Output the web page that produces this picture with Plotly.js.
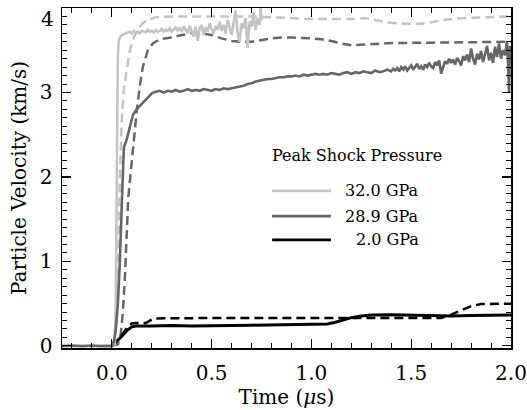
<!DOCTYPE html>
<html>
<head>
<meta charset="utf-8">
<script src="https://cdn.plot.ly/plotly-3.0.1.min.js"></script>
<style>html,body{margin:0;padding:0;background:#fff;}#chart{width:527px;height:410px;}</style>
</head>
<body>
<div id="chart"></div>
<script>
// ---- Data (time in microseconds, particle velocity in km/s) ----
// 32.0 GPa measured (solid, light gray)
var t32exp = [-0.25,-0.2,-0.15,-0.1,-0.05,0.0,0.015,0.02,0.023,0.026,0.03,0.035,0.045,0.06,0.08,
  0.09,0.10,0.11,0.12,0.13,0.14,0.15,0.16,0.17,0.18,0.19,0.20,0.21,0.22,0.23,0.24,0.25,0.26,0.27,0.28,0.29,
  0.30,0.31,0.32,0.33,0.34,0.35,0.36,0.37,0.38,0.39,0.40,0.41,0.42,0.43,0.44,0.45,0.46,0.47,0.48,0.49,
  0.50,0.51,0.52,0.53,0.54,0.55,0.56,0.57,0.58,0.59,0.60,0.61,0.62,0.63,0.64,0.65,0.66,0.67,0.68,0.69,
  0.70,0.71,0.72,0.73,0.74,0.745,0.75];
var v32exp = [0.005,-0.005,0.005,-0.005,0.005,0.0,0.02,0.6,1.6,2.8,3.45,3.62,3.67,3.69,3.71,
  3.72,3.70,3.73,3.71,3.72,3.70,3.73,3.72,3.71,3.74,3.72,3.73,3.71,3.74,3.72,3.73,3.75,3.72,3.74,3.73,3.76,
  3.72,3.75,3.77,3.73,3.76,3.72,3.78,3.74,3.70,3.79,3.73,3.66,3.78,3.61,3.76,3.80,3.68,3.77,3.72,3.82,
  3.75,3.70,3.79,3.74,3.84,3.73,3.80,3.70,3.86,3.75,3.68,3.83,3.97,3.71,3.60,3.82,3.76,3.88,3.53,3.84,
  3.78,3.95,3.74,3.88,3.80,4.0,3.85];
// 32.0 GPa simulated (dashed, light gray)
var t32sim = [0.0,0.01,0.02,0.028,0.033,0.04,0.05,0.06,0.075,0.09,0.11,0.13,0.155,0.18,0.22,0.3,0.5,0.7,
  0.8,0.9,1.0,1.1,1.2,1.27,1.32,1.38,1.45,1.55,1.6,1.67,1.75,1.85,2.0];
var v32sim = [0.0,0.05,0.3,0.8,1.2,2.0,2.7,3.05,3.3,3.5,3.65,3.75,3.82,3.86,3.89,3.9,3.9,3.9,
  3.89,3.88,3.87,3.87,3.87,3.88,3.86,3.83,3.815,3.815,3.83,3.86,3.88,3.89,3.9];
// 28.9 GPa measured (solid, dark gray)
var t29exp = [-0.25,-0.2,-0.15,-0.1,-0.05,0.0,0.01,0.02,0.03,0.04,0.05,0.055,0.06,0.075,0.09,0.105,0.12,0.14,0.16,0.18,0.2,0.22,
  0.24,0.26,0.28,0.30,0.32,0.34,0.36,0.38,0.40,0.42,0.44,0.46,0.48,0.50,0.52,0.54,0.56,0.58,0.60,0.62,0.64,0.66,0.68,
  0.70,0.72,0.74,0.76,0.78,0.80,0.82,0.84,0.86,0.88,0.90,0.92,0.94,0.96,0.98,1.00,1.02,1.04,1.06,1.08,1.10,1.12,
  1.14,1.16,1.18,1.20,1.22,1.24,1.26,1.28,1.30,1.32,1.34,1.36,1.38,1.40,
  1.41,1.42,1.43,1.44,1.45,1.46,1.47,1.48,1.49,1.50,1.51,1.52,1.53,1.54,1.55,1.56,1.57,1.58,1.59,1.60,
  1.61,1.62,1.63,1.64,1.65,1.66,1.67,1.68,1.69,1.70,1.71,1.72,1.73,1.74,1.75,1.76,1.77,1.78,1.79,1.80,
  1.81,1.82,1.83,1.84,1.85,1.86,1.87,1.88,1.89,1.90,1.91,1.92,1.93,1.94,1.95,1.96,1.97,1.98,1.985,1.99,1.995,2.0];
var v29exp = [-0.005,0.005,-0.005,0.005,-0.005,0.0,0.05,0.2,0.5,1.0,1.7,2.2,2.35,2.45,2.6,2.73,2.79,2.84,2.89,2.94,2.99,3.01,
  3.02,3.00,3.02,3.01,3.03,3.01,3.02,3.04,3.02,3.03,3.02,3.04,3.03,3.02,3.04,3.03,3.05,3.04,3.05,3.06,3.07,3.08,3.10,
  3.11,3.13,3.14,3.15,3.16,3.16,3.17,3.18,3.18,3.19,3.19,3.20,3.19,3.21,3.20,3.21,3.22,3.21,3.22,3.21,3.23,3.22,
  3.21,3.23,3.24,3.22,3.24,3.23,3.25,3.24,3.23,3.26,3.24,3.25,3.27,3.25,
  3.28,3.26,3.29,3.25,3.30,3.27,3.31,3.26,3.29,3.32,3.27,3.30,3.34,3.28,3.31,3.27,3.33,3.30,3.35,3.31,
  3.29,3.36,3.32,3.38,3.22,3.30,3.37,3.34,3.40,3.35,3.39,3.33,3.41,3.37,3.32,3.43,3.38,3.45,3.36,3.52,
  3.40,3.33,3.46,3.39,3.49,3.36,3.44,3.55,3.38,3.47,3.35,3.54,3.42,3.58,3.40,3.50,3.44,3.60,3.38,3.0,3.55,3.45];
// 28.9 GPa simulated (dashed, dark gray)
var t29sim = [0.0,0.03,0.045,0.055,0.065,0.075,0.082,0.09,0.1,0.108,0.115,0.125,0.14,0.155,0.18,0.205,0.24,0.3,0.35,
  0.4,0.45,0.5,0.55,0.6,0.65,0.7,0.75,0.8,0.85,0.9,1.0,1.05,1.1,1.15,1.2,1.25,1.3,1.4,1.6,1.8,2.0];
var v29sim = [0.0,0.02,0.15,0.4,0.8,1.3,1.75,1.95,2.2,2.4,2.6,2.79,3.08,3.3,3.5,3.58,3.63,3.65,3.68,
  3.70,3.70,3.68,3.64,3.61,3.60,3.60,3.62,3.64,3.65,3.65,3.64,3.63,3.61,3.58,3.56,3.565,3.575,3.585,3.59,3.595,3.6];
// 2.0 GPa measured (solid, black)
var t2exp = [0.0,0.02,0.04,0.06,0.08,0.1,0.12,0.2,0.3,0.4,0.5,0.6,0.7,0.8,0.9,1.0,1.08,1.12,1.16,1.2,1.25,1.3,1.4,1.5,1.6,1.7,1.8,1.9,2.0];
var v2exp = [0.0,0.04,0.09,0.14,0.19,0.225,0.235,0.235,0.24,0.235,0.235,0.24,0.245,0.25,0.255,0.255,0.26,0.28,0.31,0.335,0.355,0.365,0.37,0.365,0.355,0.355,0.36,0.36,0.365];
// 2.0 GPa simulated (dashed, black)
var t2sim = [0.0,0.03,0.06,0.08,0.1,0.12,0.17,0.19,0.21,0.5,1.0,1.2,1.5,1.65,1.7,1.75,1.8,1.85,2.0];
var v2sim = [0.0,0.07,0.16,0.23,0.265,0.27,0.27,0.3,0.325,0.33,0.33,0.325,0.325,0.33,0.37,0.42,0.47,0.495,0.5];

// axis ticks
var yTickVals = [0, 1, 2, 3, 4];
var yTickText = ["0", "1", "2", "3", ""];   // top label "4" drawn just inside the frame, as in the original
var yTopLabel = "4";

var legendTitle = "Peak Shock Pressure";
var legendLabels = ["32.0 GPa", "28.9 GPa", "2.0 GPa"];
var seriesColors = ["#c4c4c4", "#666666", "#000000"];

var FONT = "DejaVu Serif, Liberation Serif, serif";
var dashPat = "9px,5px";

var traces = [
  {x: t32sim, y: v32sim, mode: "lines", line: {color: seriesColors[0], width: 2.5, dash: dashPat}},
  {x: t29sim, y: v29sim, mode: "lines", line: {color: seriesColors[1], width: 2.5, dash: dashPat}},
  {x: t2sim, y: v2sim, mode: "lines", line: {color: seriesColors[2], width: 2.5, dash: dashPat}},
  {x: t2exp, y: v2exp, mode: "lines", line: {color: seriesColors[2], width: 3}},
  {x: t32exp, y: v32exp, mode: "lines", line: {color: seriesColors[0], width: 2.6}},
  {x: t29exp, y: v29exp, mode: "lines", line: {color: seriesColors[1], width: 2.6}}
];
traces.forEach(function(tr){ tr.showlegend = false; tr.hoverinfo = "skip"; });

// legend drawn in paper coordinates
var legY = [0.462, 0.388, 0.318];
var shapes = [];
var annotations = [{
  xref: "paper", yref: "paper", x: 0.464, y: 0.567, xanchor: "left", yanchor: "middle",
  text: legendTitle, showarrow: false, font: {family: FONT, size: 16, color: "#000"}
}, {
  xref: "paper", yref: "paper", x: -0.016, y: 1.0, xanchor: "right", yanchor: "top", yshift: 2,
  text: yTopLabel, showarrow: false, font: {family: FONT, size: 20, color: "#000"},
  borderpad: 0
}];
for (var i = 0; i < legendLabels.length; i++) {
  shapes.push({type: "line", xref: "paper", yref: "paper", x0: 0.468, x1: 0.599, y0: legY[i], y1: legY[i],
    line: {color: seriesColors[i], width: 2.8}});
  annotations.push({xref: "paper", yref: "paper", x: 0.80, y: legY[i], xanchor: "right", yanchor: "middle",
    text: legendLabels[i], showarrow: false, font: {family: FONT, size: 16, color: "#000"}});
}

var axisCommon = {
  showline: true, linecolor: "#000", linewidth: 1.5, mirror: "ticks",
  ticks: "inside", ticklen: 9, tickwidth: 1.2, tickcolor: "#000",
  showgrid: false, zeroline: false,
  tickfont: {family: FONT, size: 20, color: "#000"}
};

var layout = {
  width: 527, height: 410,
  margin: {l: 62, r: 16, t: 8, b: 62},
  paper_bgcolor: "#fff", plot_bgcolor: "#fff",
  showlegend: false,
  xaxis: Object.assign({}, axisCommon, {
    range: [-0.25, 2.0], tick0: 0, dtick: 0.5, tickformat: ".1f",
    ticklabelstandoff: 6,
    minor: {dtick: 0.1, ticks: "inside", ticklen: 5, tickwidth: 1, tickcolor: "#000", showgrid: false},
    title: {text: "Time (<i>μ</i>s)", font: {family: FONT, size: 20, color: "#000"}, standoff: 4}
  }),
  yaxis: Object.assign({}, axisCommon, {
    range: [-0.025, 4.0], tickmode: "array", tickvals: yTickVals, ticktext: yTickText,
    ticklabelstandoff: 4,
    minor: {dtick: 0.1, ticks: "inside", ticklen: 5, tickwidth: 1, tickcolor: "#000", showgrid: false},
    title: {text: "Particle Velocity (km/s)", font: {family: FONT, size: 20, color: "#000"}, standoff: 8}
  }),
  shapes: shapes,
  annotations: annotations
};

Plotly.newPlot("chart", traces, layout, {staticPlot: true, displayModeBar: false});
</script>
</body>
</html>
